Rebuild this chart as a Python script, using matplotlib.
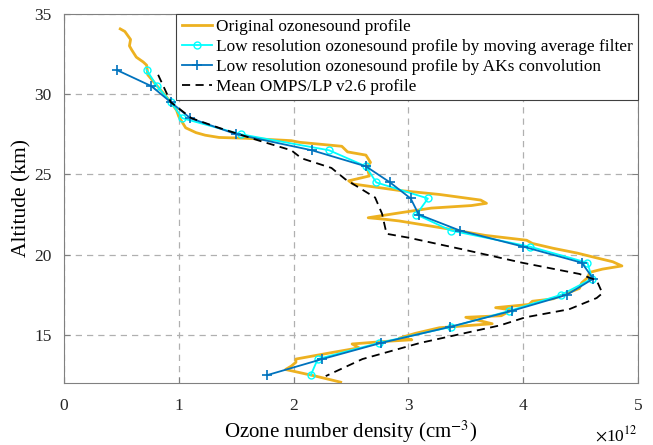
import numpy as np
import matplotlib.pyplot as plt

# Ozone profiles (number density in units of 1e12 cm^-3, altitude in km)

# original high resolution ozonesonde profile
orig_x = [0.49, 0.53, 0.58, 0.57, 0.59, 0.63, 0.69, 0.72, 0.73, 0.80, 0.86, 0.93,
          0.98, 1.00, 1.06, 1.15, 1.23, 1.35, 1.58, 1.98, 2.05, 2.42, 2.47, 2.63,
          2.67, 2.64, 2.66, 2.48, 2.52, 2.92, 3.27, 3.63, 3.68, 3.55, 3.20, 2.92,
          2.65, 2.80, 2.92, 3.35, 3.67, 4.03, 4.08, 4.26, 4.47, 4.64, 4.78, 4.86,
          4.69, 4.58, 4.56, 4.51, 4.49, 4.37, 4.26, 4.08, 4.05, 3.76, 3.90, 3.81,
          3.50, 3.73, 3.27, 3.06, 2.92, 3.03, 2.80, 2.51, 2.57, 2.33, 2.02, 2.02,
          1.98, 1.93, 2.19, 2.41]
orig_y = [34.06, 33.9, 33.4, 33.0, 32.75, 32.3, 32.0, 31.8, 31.2, 30.6, 30.1, 29.5,
          29.0, 28.6, 27.9, 27.6, 27.44, 27.3, 27.25, 27.1, 27.0, 26.75, 26.4, 26.2,
          25.75, 25.45, 24.9, 24.6, 24.4, 24.0, 23.75, 23.4, 23.2, 23.06, 22.9, 22.6,
          22.3, 22.2, 22.1, 21.6, 21.2, 20.9, 20.7, 20.4, 20.1, 19.8, 19.56, 19.3,
          19.1, 18.9, 18.56, 18.25, 17.9, 17.56, 17.25, 17.1, 16.9, 16.7, 16.56, 16.2,
          16.1, 15.7, 15.45, 15.1, 14.8, 14.7, 14.6, 14.44, 14.2, 13.9, 13.5, 13.3,
          13.06, 12.85, 12.44, 12.06]

# low resolution profiles on a 1 km grid
alt_lr = [31.5, 30.5, 29.5, 28.5, 27.5, 26.5, 25.5, 24.5, 23.5, 22.5, 21.5, 20.5,
          19.5, 18.5, 17.5, 16.5, 15.5, 14.5, 13.5, 12.5]
mavg_x = [0.72, 0.81, 0.93, 1.03, 1.54, 2.31, 2.63, 2.72, 3.17, 3.07, 3.37, 4.06,
          4.56, 4.60, 4.33, 3.88, 3.37, 2.74, 2.21, 2.15]
aks_x = [0.46, 0.76, 0.93, 1.10, 1.50, 2.16, 2.63, 2.84, 3.02, 3.09, 3.45, 4.00,
         4.51, 4.61, 4.38, 3.90, 3.36, 2.76, 2.25, 1.77]

# mean OMPS/LP v2.6 profile
omps_x = [0.82, 0.93, 1.11, 1.35, 1.70, 1.98, 2.07, 2.33, 2.45, 2.71, 2.77, 2.81,
          3.00, 3.46, 3.99, 4.49, 4.64, 4.69, 4.64, 4.40, 4.02, 3.80, 3.10, 2.60, 2.28]
omps_y = [31.2, 29.5, 28.5, 27.9, 27.1, 26.5, 26.0, 25.4, 24.7, 23.56, 22.56, 21.3,
          21.06, 20.35, 19.5, 18.8, 18.4, 17.6, 17.3, 16.6, 16.1, 15.6, 14.5, 13.5, 12.44]

plt.rcParams['font.family'] = ['Liberation Serif', 'DejaVu Serif']
plt.rcParams['mathtext.fontset'] = 'stix'

fig = plt.figure(figsize=(6.53, 4.45), dpi=100)
ax = fig.add_axes([0.098, 0.139, 0.879, 0.830])

ax.plot(orig_x, orig_y, color='#EDB120', lw=2.0, label='Original ozonesound profile')
ax.plot(mavg_x, alt_lr, color='cyan', lw=1.3, marker='o', ms=5, mfc='none', mew=1.0,
        label='Low resolution ozonesound profile by moving average filter')
ax.plot(aks_x, alt_lr, color='#0072BD', lw=1.3, marker='+', ms=7, mew=1.2,
        label='Low resolution ozonesound profile by AKs convolution')
ax.plot(omps_x, omps_y, color='black', lw=1.3, ls=(0, (4.5, 3)),
        label='Mean OMPS/LP v2.6 profile')

ax.set_xlim(0, 5)
ax.set_ylim(12, 35)
ax.set_xticks([0, 1, 2, 3, 4, 5])
ax.set_yticks([15, 20, 25, 30, 35])
ax.grid(True, ls=(0, (5, 4)), color='#b0b0b0', lw=0.9)
ax.tick_params(direction='in', top=True, right=True, labelsize=12.5, colors='#808080',
               labelcolor='#262626', length=4)
ax.tick_params(axis='x', pad=11)
ax.tick_params(axis='y', pad=9)
for s in ax.spines.values():
    s.set_color('#808080')

ax.set_xlabel('Ozone number density (cm$^{-3}$)', fontsize=15, labelpad=3)
ax.set_ylabel('Altitude (km)', fontsize=15.5, labelpad=2)
ax.text(1.0, -0.14, r'$\times$10$^{12}$', transform=ax.transAxes, ha='right',
        va='center', fontsize=12.5)

leg = ax.legend(loc='upper right', fontsize=12.4, fancybox=False, framealpha=1,
                edgecolor='#404040', borderaxespad=0, handlelength=1.75,
                handletextpad=0.25, labelspacing=0.22, borderpad=0.3)
leg.get_frame().set_linewidth(0.8)

fig.savefig('out.png', dpi=100)
